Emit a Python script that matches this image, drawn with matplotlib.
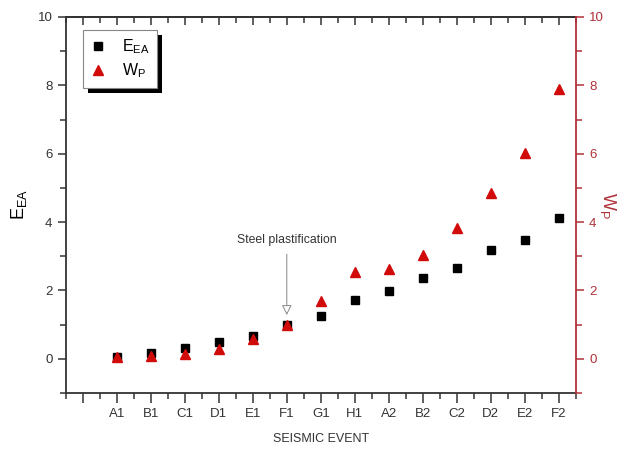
import matplotlib
matplotlib.use("Agg")
import matplotlib.pyplot as plt
from matplotlib.patches import Rectangle
from matplotlib.ticker import MultipleLocator, FixedLocator, NullFormatter

plt.rcParams['font.family'] = ['Liberation Sans', 'DejaVu Sans']
plt.rcParams['mathtext.default'] = 'regular'

events = ['A1', 'B1', 'C1', 'D1', 'E1', 'F1', 'G1', 'H1', 'A2', 'B2', 'C2', 'D2', 'E2', 'F2']
e_ea = [0.04, 0.17, 0.33, 0.48, 0.67, 1.00, 1.24, 1.72, 1.97, 2.36, 2.65, 3.17, 3.48, 4.12]
w_p = [0.05, 0.09, 0.14, 0.28, 0.58, 1.00, 1.70, 2.54, 2.63, 3.04, 3.83, 4.85, 6.03, 7.89]

RED = '#d10a0a'
AXRED = '#b0323a'
TXT = '#333333'

fig = plt.figure(figsize=(6.33, 4.53), dpi=100)
ax = fig.add_axes([0.1038, 0.1325, 0.806, 0.83])
ax2 = ax.twinx()

x = list(range(1, len(events) + 1))
ax.plot(x, e_ea, linestyle='none', marker='s', color='black', markersize=6, label=r'$E_{EA}$', zorder=3)
ax2.plot(x, w_p, linestyle='none', marker='^', color=RED, markersize=7.5, label=r'$W_{P}$', zorder=3)

for a in (ax, ax2):
    a.set_xlim(-0.5, 14.5)
    a.set_ylim(-1, 10)

ax.xaxis.set_major_locator(FixedLocator(list(range(0, 15))))
ax.set_xticklabels([''] + events)
ax.xaxis.set_minor_locator(MultipleLocator(0.5))
ax.set_yticks([0, 2, 4, 6, 8, 10])
ax.yaxis.set_minor_locator(MultipleLocator(1))
ax.tick_params(axis='x', which='major', direction='out', length=7, width=1.1, colors=TXT, labelsize=9.5, pad=4)
ax.tick_params(axis='x', which='minor', direction='out', length=4, width=1.1, color=TXT)
ax.tick_params(axis='y', which='major', direction='out', length=6, width=1.1, colors=TXT, labelsize=9.5)
ax.tick_params(axis='y', which='minor', direction='out', length=4, width=1.1, color=TXT)
ax.tick_params(axis='y', which='both', right=False)

secx = ax.secondary_xaxis('top')
secx.xaxis.set_major_locator(FixedLocator(list(range(0, 15))))
secx.xaxis.set_minor_locator(MultipleLocator(0.5))
secx.xaxis.set_major_formatter(NullFormatter())
secx.tick_params(axis='x', which='major', direction='in', length=6, width=1.1, color=TXT)
secx.tick_params(axis='x', which='minor', direction='in', length=4, width=1.1, color=TXT)
secx.spines['top'].set_linewidth(1.3)
secx.spines['top'].set_color(TXT)

for s in ('left', 'bottom', 'top'):
    ax.spines[s].set_linewidth(1.3)
    ax.spines[s].set_color(TXT)
ax.spines['right'].set_visible(False)

for s in ('left', 'bottom', 'top'):
    ax2.spines[s].set_visible(False)
ax2.spines['right'].set_color(AXRED)
ax2.spines['right'].set_linewidth(1.3)
ax2.set_yticks([0, 2, 4, 6, 8, 10])
ax2.yaxis.set_minor_locator(MultipleLocator(1))
ax2.tick_params(axis='y', which='major', direction='out', length=6, width=1.1, colors=AXRED, labelsize=9.5)
ax2.tick_params(axis='y', which='minor', direction='out', length=4, width=1.1, color=AXRED)

ax.set_ylabel(r'$E_{EA}$', fontsize=13, color='black', labelpad=6)
ax2.set_ylabel(r'$W_{P}$', fontsize=13, color=AXRED, rotation=270, labelpad=10)
ax.set_xlabel('SEISMIC EVENT', fontsize=9, color=TXT, labelpad=9)

ax.annotate('Steel plastification', xy=(6, 1.28), xytext=(6, 3.48), ha='center', va='center',
            fontsize=8.8, color=TXT, zorder=4,
            arrowprops=dict(arrowstyle='-|>', fc='white', ec='#888888', lw=0.7,
                            mutation_scale=15, shrinkA=4, shrinkB=0))

h1, l1 = ax.get_legend_handles_labels()
h2, l2 = ax2.get_legend_handles_labels()
leg = ax2.legend(h1 + h2, l1 + l2, loc='upper left', bbox_to_anchor=(0.034, 0.965),
                 borderaxespad=0, frameon=True, fancybox=False, fontsize=11.5, handlelength=1.0,
                 handletextpad=1.0, borderpad=0.45, labelspacing=0.35, framealpha=1)
leg.get_frame().set_edgecolor('#888888')
leg.get_frame().set_facecolor('white')
leg.get_frame().set_linewidth(0.8)
leg.set_zorder(10)

fig.canvas.draw()
bb = leg.get_window_extent()
shadow = Rectangle((bb.x0 + 5, bb.y0 - 5), bb.width, bb.height, transform=None,
                   facecolor='black', edgecolor='none', zorder=9)
ax2.add_artist(shadow)

fig.savefig('out.png', dpi=100)
